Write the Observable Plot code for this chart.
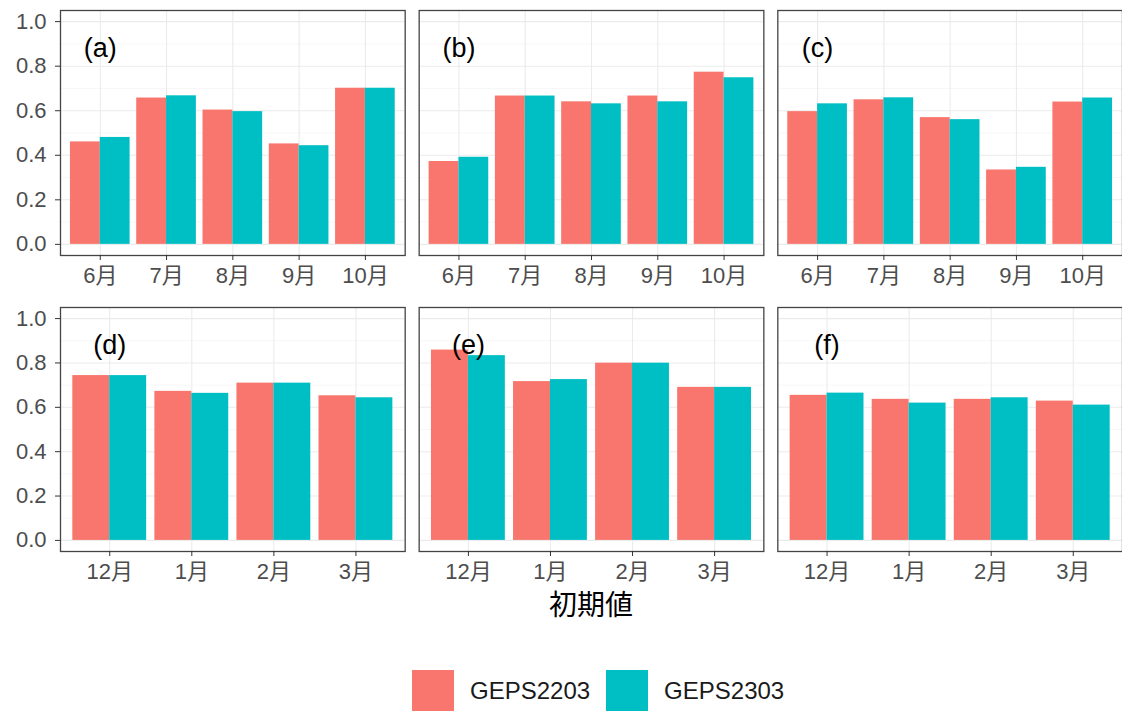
<!DOCTYPE html>
<html>
<head>
<meta charset="utf-8">
<script src="https://cdn.jsdelivr.net/npm/d3@7"></script>
<script src="https://cdn.jsdelivr.net/npm/@observablehq/plot@0.6"></script>
<style>
  html, body { margin: 0; padding: 0; background: #fff; overflow: hidden; }
  #root { position: relative; width: 1122px; height: 711px; font-family: "Liberation Sans", "Noto Sans CJK JP", sans-serif; }
  #top { position: absolute; left: 0; top: 0; }
  #bottom { position: absolute; left: 0; top: 290px; }
  #xtitle { position: absolute; left: 60px; width: 1062px; top: 589px; height: 34px; line-height: 34px; text-align: center; font-size: 28px; color: #000; }
  #legend { position: absolute; left: 412px; top: 670px; display: flex; align-items: center; gap: 16px; }
  .item { display: flex; align-items: center; gap: 16px; font-size: 24px; color: #1a1a1a; }
  .key { width: 42px; height: 42px; }
  svg text { font-family: "Liberation Sans", "Noto Sans CJK JP", sans-serif; }
</style>
</head>
<body>
<div id="root">
  <div id="top"></div>
  <div id="bottom"></div>
  <div id="xtitle"></div>
  <div id="legend"></div>
</div>
<script>
// ---- data ----
const series = ["GEPS2203", "GEPS2303"];
const seriesColors = ["#F8766D", "#00BFC4"];
const topMonths = ["6月", "7月", "8月", "9月", "10月"];
const bottomMonths = ["12月", "1月", "2月", "3月"];
const topPanels = ["(a)", "(b)", "(c)"];
const bottomPanels = ["(d)", "(e)", "(f)"];
const xTitle = "初期値";

const a2203 = [0.460, 0.657, 0.603, 0.451, 0.701];
const a2303 = [0.480, 0.667, 0.596, 0.443, 0.701];
const b2203 = [0.372, 0.666, 0.640, 0.666, 0.773];
const b2303 = [0.391, 0.666, 0.631, 0.640, 0.748];
const c2203 = [0.596, 0.649, 0.569, 0.334, 0.639];
const c2303 = [0.631, 0.658, 0.560, 0.346, 0.657];
const d2203 = [0.743, 0.672, 0.709, 0.652];
const d2303 = [0.743, 0.663, 0.709, 0.643];
const e2203 = [0.858, 0.716, 0.799, 0.690];
const e2303 = [0.833, 0.725, 0.799, 0.690];
const f2203 = [0.654, 0.636, 0.636, 0.628];
const f2303 = [0.664, 0.619, 0.643, 0.610];

const yMajor = [0, 0.2, 0.4, 0.6, 0.8, 1.0];
const yMinor = [0.1, 0.3, 0.5, 0.7, 0.9];
const labelY = 0.88;

function rowsFor(panels, months, lists) {
  const rows = [];
  panels.forEach((p, i) => {
    series.forEach((s, j) => {
      lists[i][j].forEach((v, k) => rows.push({panel: p, month: months[k], series: s, value: v}));
    });
  });
  return rows;
}
const topRows = rowsFor(topPanels, topMonths, [[a2203, a2303], [b2203, b2303], [c2203, c2303]]);
const bottomRows = rowsFor(bottomPanels, bottomMonths, [[d2203, d2303], [e2203, e2303], [f2203, f2303]]);

const W = 1122, ML = 60, MR = 0, FX_PAD = 0.039;
const X_PAD_IN = 0.1, X_PAD_OUT = 0.15;
const FONT = '"Liberation Sans", "Noto Sans CJK JP", sans-serif';

function makePlot(rows, months, panels, height, marginTop, marginBottom) {
  const facetStep = (W - ML - MR) / (panels.length - FX_PAD);
  const facetBand = facetStep * (1 - FX_PAD);
  const xStep = facetBand / (months.length - X_PAD_IN + 2 * X_PAD_OUT);
  const half = xStep * (1 - X_PAD_IN) / 2;
  const labels = panels.map(p => ({panel: p, month: months[0], text: p}));
  return Plot.plot({
    width: W, height, marginLeft: ML, marginRight: MR, marginTop, marginBottom,
    style: {fontFamily: FONT, fontSize: "22px", color: "#4d4d4d", background: "#fff", overflow: "visible"},
    fx: {domain: panels, axis: null, paddingInner: FX_PAD, paddingOuter: 0, round: false, label: null},
    x: {domain: months, paddingInner: X_PAD_IN, paddingOuter: X_PAD_OUT, round: false, label: null},
    y: {domain: [-0.05, 1.05], label: null},
    color: {domain: series, range: seriesColors},
    marks: [
      Plot.gridY(yMinor, {stroke: "#f2f2f2", strokeOpacity: 1, strokeWidth: 0.6}),
      Plot.gridY(yMajor, {stroke: "#ebebeb", strokeOpacity: 1, strokeWidth: 1.1}),
      Plot.gridX({stroke: "#ebebeb", strokeOpacity: 1, strokeWidth: 1.1}),
      Plot.barY(rows.filter(d => d.series === series[0]), {fx: "panel", x: "month", y: "value", fill: "series", insetRight: half}),
      Plot.barY(rows.filter(d => d.series === series[1]), {fx: "panel", x: "month", y: "value", fill: "series", insetLeft: half}),
      Plot.text(labels, {fx: "panel", x: "month", y: () => labelY, text: "text", fontSize: 27, fill: "#000", textAnchor: "middle"}),
      Plot.frame({stroke: "#444", strokeWidth: 1.3}),
      Plot.axisY(yMajor, {tickFormat: ".1f", label: null, tickSize: 5, tickPadding: 9, fontSize: 22, stroke: "#333", fill: "#4d4d4d"}),
      Plot.axisX({label: null, tickSize: 5, tickPadding: 7, fontSize: 22, stroke: "#333", fill: "#4d4d4d"})
    ]
  });
}

document.getElementById("top").appendChild(makePlot(topRows, topMonths, topPanels, 290, 10, 35));
document.getElementById("bottom").appendChild(makePlot(bottomRows, bottomMonths, bottomPanels, 300, 17, 39));
document.getElementById("xtitle").textContent = xTitle;

const legend = document.getElementById("legend");
series.forEach((s, i) => {
  const item = document.createElement("div");
  item.className = "item";
  const key = document.createElement("div");
  key.className = "key";
  key.style.background = seriesColors[i];
  const label = document.createElement("span");
  label.textContent = s;
  item.appendChild(key);
  item.appendChild(label);
  legend.appendChild(item);
});
</script>
</body>
</html>
